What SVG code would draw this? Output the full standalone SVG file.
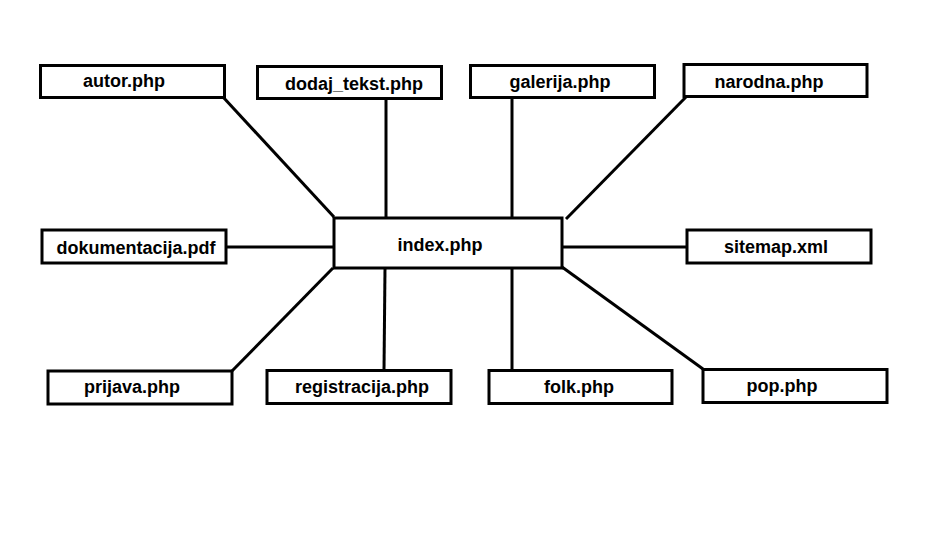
<svg xmlns="http://www.w3.org/2000/svg" width="934" height="555" viewBox="0 0 934 555">
<style>
.box{fill:#fff;stroke:#000;stroke-width:3}
.lbl{font-family:"Liberation Sans",Arial,sans-serif;font-weight:bold;font-size:18px;fill:#000;text-anchor:middle}
.conn line{stroke:#000;stroke-width:3;stroke-linecap:butt}
</style>
<rect width="934" height="555" fill="#fff"/>
<g id="connectors" class="conn">
<line x1="223" y1="97" x2="334" y2="217"/>
<line x1="386" y1="99" x2="386" y2="217"/>
<line x1="512" y1="98" x2="512" y2="217"/>
<line x1="686" y1="97" x2="566" y2="219"/>
<line x1="227" y1="247" x2="336" y2="247"/>
<line x1="563" y1="247" x2="688" y2="247"/>
<line x1="333" y1="268" x2="232" y2="371"/>
<line x1="385" y1="268" x2="384" y2="370"/>
<line x1="512" y1="268" x2="512" y2="370"/>
<line x1="562" y1="267" x2="703" y2="369"/>
</g>
<g id="index"><rect class="box" x="334" y="218" width="228" height="50"/><text class="lbl" x="440" y="251">index.php</text></g>
<g id="autor"><rect class="box" x="40.5" y="65.5" width="184" height="32"/><text class="lbl" x="124" y="87">autor.php</text></g>
<g id="dodaj_tekst"><rect class="box" x="257.5" y="66.5" width="184" height="32"/><text class="lbl" x="354" y="90">dodaj_tekst.php</text></g>
<g id="galerija"><rect class="box" x="470.5" y="65.5" width="184" height="32"/><text class="lbl" x="560" y="88">galerija.php</text></g>
<g id="narodna"><rect class="box" x="684" y="64.5" width="183" height="32"/><text class="lbl" x="769" y="88">narodna.php</text></g>
<g id="dokumentacija"><rect class="box" x="42" y="230" width="184" height="33"/><text class="lbl" x="136" y="254">dokumentacija.pdf</text></g>
<g id="sitemap"><rect class="box" x="687" y="230" width="184" height="33"/><text class="lbl" x="776" y="253">sitemap.xml</text></g>
<g id="prijava"><rect class="box" x="48" y="371" width="184" height="33"/><text class="lbl" x="132" y="393">prijava.php</text></g>
<g id="registracija"><rect class="box" x="267" y="370.5" width="184" height="33"/><text class="lbl" x="362" y="393">registracija.php</text></g>
<g id="folk"><rect class="box" x="489" y="370.5" width="183" height="33"/><text class="lbl" x="579" y="393">folk.php</text></g>
<g id="pop"><rect class="box" x="703" y="369.5" width="184" height="33"/><text class="lbl" x="782" y="392">pop.php</text></g>
</svg>
